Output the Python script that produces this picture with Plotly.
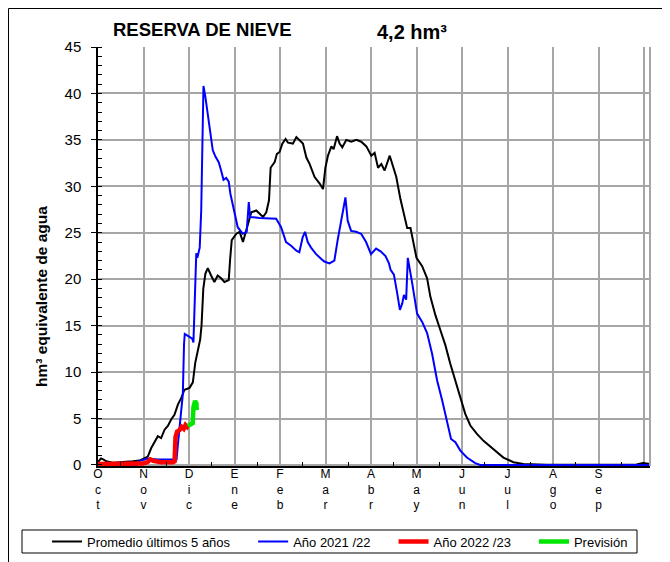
import plotly.graph_objects as go

# dias desde el 1 de octubre (escala de meses iguales, 365/12 por mes)
dias_promedio = [0, 1, 2, 3.5, 5.5, 10, 16.6, 23.3, 27.7, 31, 33.3, 35.5, 37.8, 40, 42.2, 44.5,
                 46.7, 48.9, 51.1, 53.4, 55.6, 57.8, 61.2, 63.4, 65, 66.8, 68.3, 69.2, 69.8, 70.4,
                 71.8, 73.4, 75.6, 77.8, 80, 82.3, 84.5, 87.4, 88.3, 89.4, 92.5, 94.7, 96.9, 98.7,
                 100.3, 102.5, 105.8, 108.1, 110.3, 112.5, 114.3, 115.4, 118.1, 119.6, 121.4, 123.2,
                 125.4, 127, 130.3, 132.6, 134.8, 137, 139.3, 141.5, 144.8, 148.2, 150.4, 152,
                 153.7, 156, 157.5, 159.8, 161.5, 163.3, 166, 169.3, 172.7, 176, 179.4, 182.7,
                 184.9, 187.2, 189.4, 191.6, 195, 197.2, 199.4, 202.2, 204.5, 206.7, 208.9, 211.1,
                 212.9, 216.7, 220, 222.2, 225.6, 228.9, 232.2, 235.5, 238.9, 242.2, 245.5, 248.9,
                 253.3, 257.7, 264.4, 271, 277.7, 284.4, 300, 360, 364.3, 369]
promedio = [0.3, 0.5, 0.7, 0.6, 0.4, 0.25, 0.3, 0.4, 0.47, 0.7, 0.9, 1.8, 2.5, 3.1, 2.9, 3.8,
            4.2, 4.9, 5.4, 6.5, 7.2, 8.1, 8.3, 8.9, 11, 12.5, 13.5, 15, 17, 19,
            20.6, 21.2, 20.4, 19.7, 20.4, 20.1, 19.7, 19.9, 22.1, 24.2, 24.9, 25.1, 24.0, 25.1,
            26.0, 27.2, 27.4, 27.0, 26.7, 27.2, 28.5, 32.0, 32.6, 33.5, 33.7, 34.6,
            35.1, 34.7, 34.6, 35.3, 35.0, 34.6, 33.1, 32.4, 31.0, 30.3, 29.7, 32.0,
            33.3, 34.3, 34.0, 35.4, 34.6, 34.2, 35.0, 34.8, 35.0, 34.8, 34.3, 33.3,
            33.6, 32.0, 32.4, 31.7, 33.3, 32.0, 31.0, 28.6, 27.1, 25.5, 25.5, 23.9,
            22.3, 21.4, 20.1, 18.1, 16.1, 14.5, 12.9, 10.9, 9.1, 7.3, 5.5, 4.25,
            3.35, 2.6, 1.7, 0.8, 0.3, 0.1, 0.03, 0.05, 0.2, 0.1]

dias_2122 = [0, 26, 28, 33, 40, 45, 50, 52.5, 53.4, 54.5, 55.6, 56.7, 57.5, 58, 59, 61, 63,
             63.8, 64.6, 65.2, 65.7, 66.4, 67.3, 68, 69, 69.6, 70.5, 71.8, 73.4, 75.6, 76.7,
             78.5, 80.7, 82.3, 83.9, 85.7, 87.4, 88.5, 91.2, 93.4, 96.7, 99.4, 100.8, 101.7,
             107.9, 119.1, 122.4, 125.7, 129.1, 132.4, 134.6, 136.8, 138.4, 140.2, 142.4, 145.8,
             149.1, 151.3, 154.7, 158, 160.2, 162.5, 164.2, 165.4, 166.9, 169.2, 172.5, 175.9,
             179.2, 182.5, 185.9, 188.9, 192.2, 194.5, 195.6, 197.8, 200, 201.8, 203.4, 204.5,
             206, 207.1, 210, 213.3, 216.7, 220, 223.3, 226.7, 230, 233.3, 236, 238.9, 242.2,
             246.6, 252.2, 255.5, 369]
anio_2122 = [0, 0, 0.45, 0.7, 0.6, 0.6, 0.55, 0.6, 2.2, 4.2, 6.0, 7.6, 13, 14.1, 14.0, 13.8, 13.6,
             13.2, 17, 21.5, 22.8, 22.3, 23.2, 23.4, 27.4, 34.6, 40.8, 39.6, 37.8, 35.3, 33.9,
             33.2, 32.6, 31.7, 30.7, 30.9, 30.5, 29.2, 27.4, 25.6, 24.9, 25.1, 28.3, 26.7,
             26.6, 26.5, 25.6, 24.0, 23.6, 23.1, 22.9, 24.5, 25.1, 24.0, 23.4, 22.7,
             22.2, 21.9, 21.7, 22.0, 24.2, 26.3, 27.7, 28.8, 26.3, 25.2, 25.1, 24.9,
             24.0, 22.7, 23.3, 23.0, 22.5, 21.7, 21.0, 20.5, 18.5, 16.7, 17.4, 18.3,
             17.8, 22.3, 19.6, 16.3, 15.4, 14.2, 12.0, 9.1, 7.0, 4.8, 2.8, 2.45, 1.55,
             0.8, 0.2, 0, 0]

dias_2223 = [0, 30, 33, 35, 37, 42, 50, 51.2, 51.8, 52.9, 54.5, 56, 57.3, 58.5, 59.6, 60]
anio_2223 = [0.1, 0.15, 0.3, 0.6, 0.45, 0.3, 0.3, 0.4, 3.0, 3.6, 3.75, 4.1, 3.9, 4.3, 4.1, 4.2]

dias_prev = [60, 61.6, 63.3, 63.8, 64.9, 65.8, 66]
prevision = [4.2, 4.3, 4.5, 6.2, 6.9, 6.6, 5.9]

meses = ['Oct', 'Nov', 'Dic', 'Ene', 'Feb', 'Mar', 'Abr', 'May', 'Jun', 'Jul', 'Ago', 'Sep']

# the page body has an 8px margin, so the figure is drawn 8px smaller
W, H = 662, 554
L, R, T, B = 90, 20, 39, 96
FONT = 'Liberation Sans, Arial, sans-serif'
SP = '\u00a0' * 5


# page pixel -> paper coordinates
def px2x(px):
    return (px - 98) / 552


def py2y(py):
    return (466 - py) / 419


mes = 365 / 12
tickvals = [i * mes for i in range(13)]
ticktext = ['<br>'.join(m) for m in meses] + ['']

fig = go.Figure()
fig.add_trace(go.Scatter(x=dias_promedio, y=promedio, mode='lines', name='Promedio últimos 5 años' + SP,
                         line=dict(color='black', width=2)))
fig.add_trace(go.Scatter(x=dias_2122, y=anio_2122, mode='lines', name='Año 2021 /22' + SP,
                         line=dict(color='#0000ff', width=2)))
fig.add_trace(go.Scatter(x=dias_2223, y=anio_2223, mode='lines', name='Año 2022 /23' + SP,
                         line=dict(color='#ff0000', width=4.5)))
fig.add_trace(go.Scatter(x=dias_prev, y=prevision, mode='lines', name='Previsión',
                         line=dict(color='#00e600', width=4.5)))

fig.update_layout(
    width=W, height=H,
    margin=dict(l=L, r=R, t=T, b=B, autoexpand=False),
    paper_bgcolor='white', plot_bgcolor='white',
    font=dict(family=FONT, color='black', size=12),
    showlegend=True,
    legend=dict(orientation='h', x=px2x(47), y=py2y(541.5), xanchor='left', yanchor='middle',
                font=dict(size=13), bgcolor='rgba(0,0,0,0)', borderwidth=0),
    xaxis=dict(range=[0, 369], tickmode='array', tickvals=tickvals, ticktext=ticktext,
               showgrid=True, gridcolor='#a6a6a6', gridwidth=1.5, ticks='',
               showline=True, linecolor='black', linewidth=1.5, zeroline=False,
               tickfont=dict(size=12), ticklabelstandoff=-4,
               minor=dict(tickmode='array', tickvals=[v + mes / 2 for v in tickvals[:12]],
                          ticks='inside', ticklen=4, tickcolor='black', showgrid=False)),
    yaxis=dict(range=[-0.11, 45], tickmode='linear', tick0=0, dtick=5,
               showgrid=True, gridcolor='#a6a6a6', gridwidth=1.5,
               ticks='outside', ticklen=5, tickcolor='black',
               showline=True, linecolor='black', linewidth=1.5, zeroline=False,
               tickfont=dict(size=15), ticklabelstandoff=7,
               minor=dict(dtick=1, ticks='inside', ticklen=4, tickcolor='black', showgrid=False)),
    shapes=[
        dict(type='line', xref='paper', yref='paper', x0=1, x1=1, y0=0, y1=1,
             line=dict(color='#a6a6a6', width=2)),
        dict(type='rect', xref='paper', yref='paper', x0=px2x(22), x1=px2x(637),
             y0=py2y(530), y1=py2y(553), line=dict(color='black', width=1)),
        dict(type='line', xref='paper', yref='paper', x0=px2x(8.5), x1=px2x(670),
             y0=py2y(8.5), y1=py2y(8.5), line=dict(color='black', width=1)),
        dict(type='line', xref='paper', yref='paper', x0=px2x(8.5), x1=px2x(8.5),
             y0=py2y(8.5), y1=py2y(562), line=dict(color='black', width=1)),
    ],
    annotations=[
        dict(text='<b>RESERVA DE NIEVE</b>', xref='paper', yref='paper', x=px2x(202), y=py2y(29),
             xanchor='center', yanchor='middle', showarrow=False, font=dict(size=18.5)),
        dict(text='<b>4,2 hm³</b>', xref='paper', yref='paper', x=px2x(412), y=py2y(32),
             xanchor='center', yanchor='middle', showarrow=False, font=dict(size=20)),
        dict(text='<b>hm³ equivalente de agua</b>', xref='paper', yref='paper', x=px2x(41),
             y=py2y(297), xanchor='center', yanchor='middle', textangle=-90,
             showarrow=False, font=dict(size=15.5)),
    ],
)

fig.write_html('out.html')
